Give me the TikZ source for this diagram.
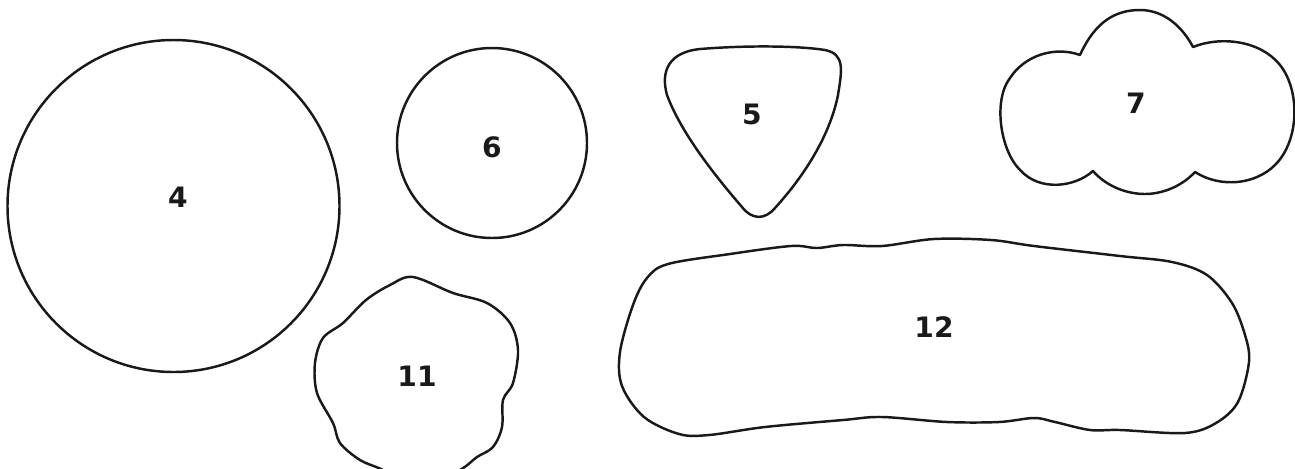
\documentclass[tikz,border=0pt]{standalone}
\usepackage{fontspec}
\setmainfont{DejaVu Sans}
\usepackage{tikz}
\usetikzlibrary{calc}
\tikzset{
shapeline/.style={draw=black!90,line width=1.4pt,line join=round},
numlabel/.style={font=\fontsize{16}{19}\selectfont\bfseries,text=black!90,inner sep=0pt}
}

\begin{document}
\begin{tikzpicture}[
x=0.02cm,
y=-0.02cm
]
\useasboundingbox (0,0) rectangle (1295,468);
\clip (0,0) rectangle (1295,468);
% round shapes
\draw[shapeline] (173.5,206) circle[radius=166];
\draw[shapeline] (492,143) circle[radius=95];
% pick shape
\draw[shapeline] (700,49) .. controls (750,45) and (800,46) .. (825,50)
  .. controls (845,54) and (842,70) .. (838,95)
  .. controls (830,135) and (805,175) .. (775,208)
  .. controls (765,220) and (752,220) .. (742,207)
  .. controls (710,170) and (680,130) .. (667,95)
  .. controls (660,70) and (670,52) .. (700,49) -- cycle;
% cloud
\draw[shapeline] (1080,55) .. controls (1095,22) and (1115,10) .. (1140,10)
  .. controls (1165,10) and (1183,28) .. (1193,47)
  .. controls (1220,36) and (1260,40) .. (1280,65)
  .. controls (1300,90) and (1300,140) .. (1275,165)
  .. controls (1255,185) and (1220,188) .. (1195,172)
  .. controls (1180,188) and (1160,194) .. (1145,194)
  .. controls (1125,194) and (1105,185) .. (1093,171)
  .. controls (1075,187) and (1040,192) .. (1020,170)
  .. controls (1000,150) and (993,100) .. (1010,78)
  .. controls (1025,55) and (1055,46) .. (1080,55) -- cycle;
% blob
\draw[shapeline] plot[smooth cycle,tension=0.55] coordinates {
  (413,277) (453,293) (487,303) (510,323) (518,350) (513,383) (503,400)
  (502,427) (493,447) (477,457) (460,470) (420,490) (383,470) (360,460)
  (340,443) (333,423) (317,393) (315,363) (323,338) (343,323) (366,300) (390,285)};
% long blob
\draw[shapeline] plot[smooth cycle,tension=0.55] coordinates {
  (668,264) (730,254) (791,246) (817,248) (843,245) (882,246) (934,239) (991,240)
  (1034,246) (1120,256) (1172,262) (1207,275) (1232,303) (1245,335)
  (1249,362) (1238,402) (1216,423) (1185,433) (1120,430) (1090,430)
  (1055,422) (1034,418) (999,422) (947,422) (882,417) (843,420) (765,427)
  (709,435) (679,434) (644,417) (622,386) (620,352) (633,305) (647,278)};
% numbers
\node[numlabel] (lbl4) at (178,197) {4};
\node[numlabel] (lbl6) at (492,147) {6};
\node[numlabel] (lbl5) at (752,114) {5};
\node[numlabel] (lbl7) at (1136,103) {7};
\node[numlabel] (lbl11) at (417,376) {11};
\node[numlabel] (lbl12) at (934,327) {12};
\end{tikzpicture}
\end{document}
